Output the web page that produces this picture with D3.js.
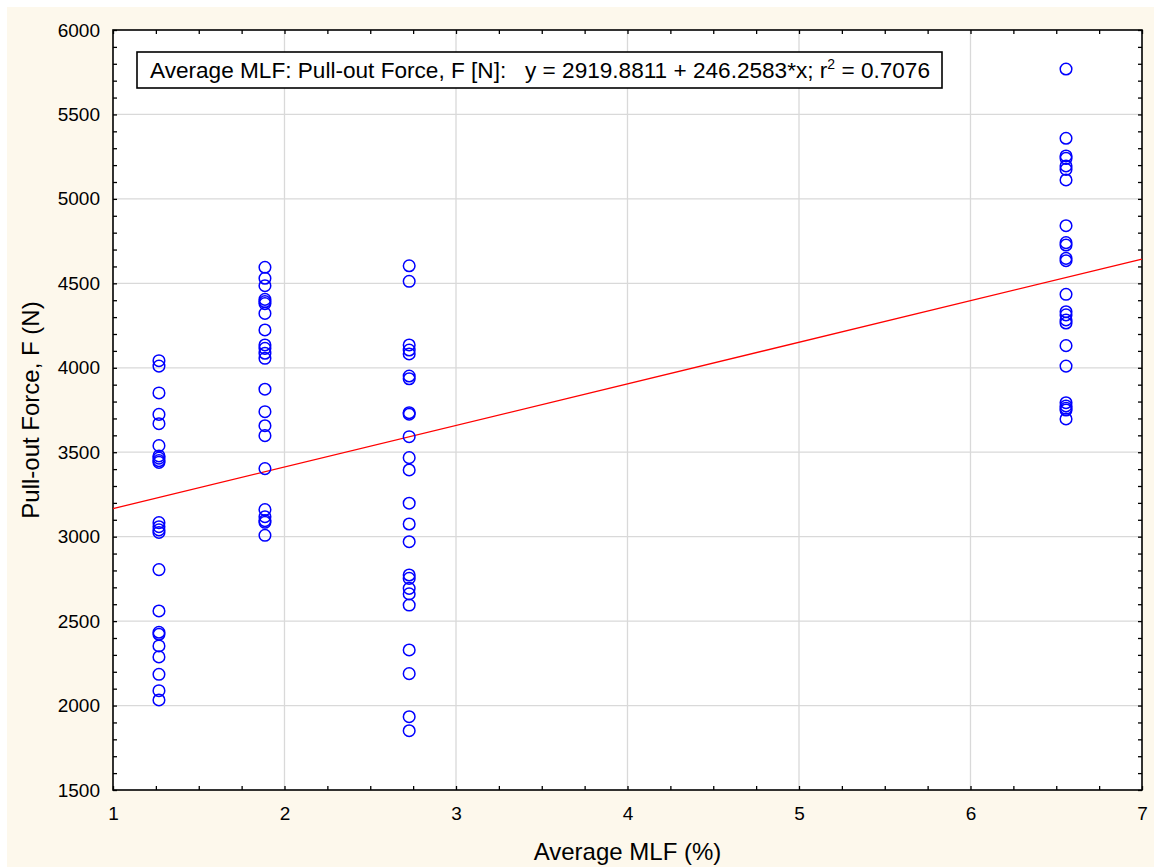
<!DOCTYPE html>
<html><head><meta charset="utf-8">
<script src="https://cdn.jsdelivr.net/npm/d3@7"></script>
<style>body{margin:0;background:#fff}svg{display:block}text{font-family:"Liberation Sans",Arial,sans-serif}</style>
</head><body>
<svg id="c" width="1154" height="867"></svg>
<script>
const xLevels = [1.268, 1.886, 2.727, 6.557];
const col1 = [4042,4010,3851,3724,3669,3539,3478,3465,3450,3440,3083,3059,3040,3025,2805,2560,2434,2422,2353,2288,2185,2088,2033];
const col2 = [4595,4530,4486,4405,4392,4380,4322,4224,4135,4115,4086,4056,3873,3740,3657,3598,3403,3160,3118,3095,3085,3008];
const col3 = [4604,4512,4135,4105,4082,3951,3935,3734,3725,3592,3468,3395,3198,3075,2970,2773,2753,2694,2661,2595,2329,2189,1934,1851];
const col4 = [5769,5359,5254,5240,5195,5175,5112,4841,4741,4727,4648,4634,4435,4332,4313,4283,4265,4131,4010,3793,3774,3760,3750,3697];
const intercept = 2919.8811, slope = 246.2583;
const xTicks = [1,2,3,4,5,6,7];
const yTicks = [1500,2000,2500,3000,3500,4000,4500,5000,5500,6000];
const legendText = "Average MLF: Pull-out Force, F [N]:   y = 2919.8811 + 246.2583*x; r";
const xTitle = "Average MLF (%)", yTitle = "Pull-out Force, F (N)";

const svg = d3.select("#c");
svg.append("rect").attr("x",7).attr("y",7).attr("width",1147).attr("height",860).attr("fill","#fdf8ec");
const L=113,R=1142,T=30,B=790;
const x = d3.scaleLinear().domain([1,7]).range([L,R]);
const y = d3.scaleLinear().domain([1500,6000]).range([B,T]);
svg.append("rect").attr("x",L).attr("y",T).attr("width",R-L).attr("height",B-T).attr("fill","#fff");
// grid
svg.append("g").selectAll("line").data(xTicks.slice(1,-1)).join("line")
  .attr("x1",d=>x(d)).attr("x2",d=>x(d)).attr("y1",T).attr("y2",B).attr("stroke","#d9d9d9").attr("stroke-width",1.3);
svg.append("g").selectAll("line").data(yTicks.slice(1,-1)).join("line")
  .attr("y1",d=>y(d)).attr("y2",d=>y(d)).attr("x1",L).attr("x2",R).attr("stroke","#d9d9d9").attr("stroke-width",1.3);
// axes with inner ticks
const minorX = d3.range(1,7.001,0.25), minorY = d3.range(1500,6001,100);
function axisG(axis, tr){ const g=svg.append("g").attr("transform",tr).call(axis); g.select(".domain").remove(); g.selectAll("line").attr("stroke","#000").attr("stroke-width",1.3); return g;}
axisG(d3.axisBottom(x).tickValues(minorX).tickSize(-4).tickFormat(""),`translate(0,${B})`);
axisG(d3.axisTop(x).tickValues(minorX).tickSize(-4).tickFormat(""),`translate(0,${T})`);
axisG(d3.axisLeft(y).tickValues(minorY).tickSize(-4).tickFormat(""),`translate(${L},0)`);
axisG(d3.axisRight(y).tickValues(minorY).tickSize(-4).tickFormat(""),`translate(${R},0)`);
const bx = axisG(d3.axisBottom(x).tickValues(xTicks).tickSize(0).tickPadding(17).tickFormat(d3.format("d")),`translate(0,${B})`);
bx.selectAll("text").attr("font-size",19).attr("fill","#000").attr("font-family","Liberation Sans, Arial");
const by = axisG(d3.axisLeft(y).tickValues(yTicks).tickSize(0).tickPadding(13).tickFormat(d3.format("d")),`translate(${L},0)`);
by.selectAll("text").attr("font-size",19).attr("fill","#000").attr("font-family","Liberation Sans, Arial");
svg.append("rect").attr("x",L).attr("y",T).attr("width",R-L).attr("height",B-T).attr("fill","none").attr("stroke","#000").attr("stroke-width",1.6);
// regression line
svg.append("line").attr("x1",x(1)).attr("y1",y(intercept+slope*1)).attr("x2",x(7)).attr("y2",y(intercept+slope*7))
  .attr("stroke","#ff0000").attr("stroke-width",1.3);
// points
const pts = [];
[col1,col2,col3,col4].forEach((c,i)=>c.forEach(v=>pts.push([xLevels[i],v])));
svg.append("g").selectAll("circle").data(pts).join("circle")
  .attr("cx",d=>x(d[0])).attr("cy",d=>y(d[1])).attr("r",5.8)
  .attr("fill","none").attr("stroke","#0000ff").attr("stroke-width",1.5);
// legend box
const lg = svg.append("g");
const t = lg.append("text").attr("x",150).attr("y",78).attr("font-size",22.6).attr("fill","#000").style("white-space","pre");
t.append("tspan").text(legendText);
t.append("tspan").attr("font-size",14).attr("dy",-9).text("2");
t.append("tspan").attr("dy",9).text(" = 0.7076");
const bb = t.node().getBBox();
lg.insert("rect","text").attr("x",137).attr("y",52).attr("width",bb.x+bb.width-137+12).attr("height",36)
  .attr("fill","#fff").attr("stroke","#000").attr("stroke-width",1.6);
// titles
svg.append("text").attr("x",(L+R)/2).attr("y",860).attr("text-anchor","middle").attr("font-size",24).text(xTitle);
svg.append("text").attr("transform",`translate(39,${(T+B)/2}) rotate(-90)`).attr("text-anchor","middle").attr("font-size",24).text(yTitle);
</script>
</body></html>
